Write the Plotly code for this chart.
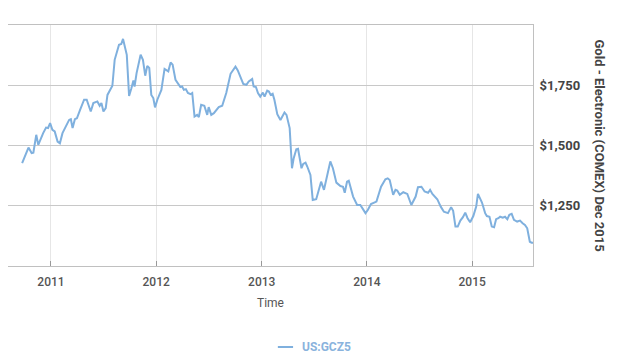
import plotly.graph_objects as go

dates = [
    "2010-09-23", "2010-10-15", "2010-10-26", "2010-11-01", "2010-11-11", "2010-11-18",
    "2010-12-05", "2010-12-15", "2010-12-22", "2010-12-29", "2011-01-06", "2011-01-14",
    "2011-01-24", "2011-02-01", "2011-02-10", "2011-03-05", "2011-03-11", "2011-03-17",
    "2011-03-25", "2011-04-01", "2011-04-12", "2011-04-26", "2011-05-05", "2011-05-19",
    "2011-05-28", "2011-06-11", "2011-06-19", "2011-06-25", "2011-07-02", "2011-07-10",
    "2011-07-16", "2011-08-02", "2011-08-10", "2011-08-25", "2011-09-02", "2011-09-08",
    "2011-09-21", "2011-09-29", "2011-10-07", "2011-10-14", "2011-10-18", "2011-10-25",
    "2011-11-08", "2011-11-16", "2011-11-24", "2011-12-01", "2011-12-08", "2011-12-15",
    "2011-12-22", "2011-12-28", "2012-01-05", "2012-01-19", "2012-01-30", "2012-02-12",
    "2012-02-20", "2012-02-27", "2012-03-08", "2012-03-19", "2012-03-25", "2012-03-31",
    "2012-04-06", "2012-04-13", "2012-04-20", "2012-04-29", "2012-05-05", "2012-05-13",
    "2012-05-22", "2012-05-28", "2012-06-05", "2012-06-16", "2012-06-26", "2012-07-01",
    "2012-07-10", "2012-07-19", "2012-08-05", "2012-08-17", "2012-08-31", "2012-09-15",
    "2012-09-23", "2012-10-02", "2012-10-10", "2012-10-20", "2012-10-29", "2012-11-09",
    "2012-11-17", "2012-11-29", "2012-12-04", "2012-12-12", "2012-12-19", "2012-12-27",
    "2013-01-05", "2013-01-11", "2013-01-20", "2013-01-26", "2013-02-01", "2013-02-08",
    "2013-02-14", "2013-02-24", "2013-03-07", "2013-03-21", "2013-03-28", "2013-04-08",
    "2013-04-16", "2013-04-22", "2013-05-01", "2013-05-07", "2013-05-19", "2013-05-25",
    "2013-06-02", "2013-06-08", "2013-06-19", "2013-06-27", "2013-07-09", "2013-07-26",
    "2013-08-05", "2013-08-27", "2013-09-05", "2013-09-17", "2013-10-01", "2013-10-10",
    "2013-10-16", "2013-10-24", "2013-10-30", "2013-11-14", "2013-11-28", "2013-12-09",
    "2013-12-21", "2013-12-27", "2014-01-04", "2014-01-15", "2014-02-03", "2014-02-19",
    "2014-03-06", "2014-03-14", "2014-03-21", "2014-04-02", "2014-04-10", "2014-04-16",
    "2014-04-25", "2014-05-07", "2014-05-21", "2014-06-04", "2014-06-19", "2014-06-27",
    "2014-07-09", "2014-07-20", "2014-08-01", "2014-08-08", "2014-08-16", "2014-08-24",
    "2014-09-02", "2014-09-14", "2014-09-25", "2014-10-09", "2014-10-20", "2014-10-27",
    "2014-11-04", "2014-11-12", "2014-11-21", "2014-11-30", "2014-12-08", "2014-12-16",
    "2014-12-25", "2015-01-05", "2015-01-15", "2015-01-21", "2015-01-29", "2015-02-04",
    "2015-02-15", "2015-02-21", "2015-03-02", "2015-03-10", "2015-03-18", "2015-03-25",
    "2015-04-02", "2015-04-08", "2015-04-17", "2015-04-25", "2015-05-03", "2015-05-10",
    "2015-05-18", "2015-05-26", "2015-06-06", "2015-06-16", "2015-06-25", "2015-07-03",
    "2015-07-11", "2015-07-20", "2015-07-26", "2015-07-31",
]

prices = [
    1428, 1493, 1470, 1472, 1546, 1504,
    1553, 1576, 1574, 1595, 1567, 1560,
    1518, 1511, 1553, 1608, 1611, 1574,
    1611, 1615, 1650, 1692, 1692, 1643,
    1678, 1685, 1667, 1678, 1643, 1657,
    1712, 1750, 1858, 1921, 1924, 1945,
    1879, 1708, 1740, 1772, 1747, 1803,
    1879, 1858, 1792, 1833, 1824, 1712,
    1699, 1660, 1692, 1733, 1820, 1810,
    1847, 1838, 1775, 1754, 1745, 1747,
    1733, 1736, 1720, 1715, 1720, 1622,
    1629, 1620, 1671, 1667, 1629, 1661,
    1629, 1636, 1661, 1667, 1720, 1800,
    1814, 1830, 1814, 1782, 1758, 1754,
    1768, 1778, 1747, 1745, 1720, 1705,
    1722, 1705, 1730, 1726, 1712, 1717,
    1692, 1632, 1608, 1639, 1629, 1574,
    1407, 1449, 1486, 1488, 1407, 1425,
    1430, 1414, 1379, 1275, 1278, 1351,
    1317, 1435, 1407, 1347, 1333, 1330,
    1305, 1351, 1355, 1289, 1254, 1254,
    1230, 1220, 1233, 1258, 1268, 1330,
    1361, 1365, 1358, 1296, 1317, 1314,
    1296, 1307, 1300, 1254, 1289, 1328,
    1330, 1310, 1305, 1317, 1300, 1289,
    1278, 1247, 1226, 1220, 1245, 1230,
    1164, 1164, 1189, 1203, 1222, 1199,
    1182, 1208, 1247, 1300, 1278, 1264,
    1220, 1208, 1205, 1164, 1161, 1195,
    1199, 1205, 1201, 1205, 1195, 1213,
    1217, 1192, 1185, 1189, 1178, 1171,
    1157, 1101, 1097, 1097,
]

series_name = "US:GCZ5"
y_title = "Gold - Electronic (COMEX) Dec 2015"
x_title = "Time"
y_tickvals = [1250, 1500, 1750]
y_ticktext = ["$1,250", "$1,500", "$1,750"]
x_tickvals = ["2011-01-01", "2012-01-01", "2013-01-01", "2014-01-01", "2015-01-01"]
x_ticktext = ["2011", "2012", "2013", "2014", "2015"]

line_color = "#7fb0de"
legend_text_color = "#8ab3dd"

fig = go.Figure()
fig.add_trace(go.Scatter(
    x=dates, y=prices, mode="lines", name=series_name,
    line=dict(color=line_color, width=2), showlegend=False,
))

fig.update_layout(
    width=617, height=355,
    margin=dict(l=0, r=92, t=17, b=97),
    paper_bgcolor="white", plot_bgcolor="white",
    font=dict(family="Roboto", size=12, color="#555555"),
    showlegend=False,
    xaxis=dict(
        range=["2010-08-05", "2015-07-31"],
        tickvals=x_tickvals, ticktext=x_ticktext,
        showgrid=True, gridcolor="#e6e6e6", gridwidth=1,
        ticks="inside", ticklen=5, tickcolor="#999999",
        showline=True, linecolor="#c0c0c0", linewidth=1, mirror=True,
        tickfont=dict(size=12, color="#555555", weight=500),
        ticklabelstandoff=5,
        title=dict(text=x_title, font=dict(size=12, color="#555555"), standoff=10),
        zeroline=False,
    ),
    yaxis=dict(
        range=[1000, 2003], side="right",
        tickvals=y_tickvals, ticktext=y_ticktext,
        showgrid=True, gridcolor="#c8c8c8", gridwidth=1,
        ticks="", showline=True, linecolor="#c0c0c0", linewidth=1, mirror=True,
        tickfont=dict(size=13, color="#444444", weight="bold"),
        ticklabelstandoff=3,
        zeroline=False,
    ),
    annotations=[
        dict(
            text=y_title, textangle=90, xref="paper", yref="paper",
            x=1.0, xshift=66, y=0.5, xanchor="center", yanchor="middle",
            showarrow=False, font=dict(size=13, color="#444444", weight="bold"),
        ),
        dict(
            text=series_name, xref="paper", yref="paper",
            x=0.556, y=-0.336, xanchor="left", yanchor="middle",
            showarrow=False, font=dict(size=12, color=legend_text_color, weight="bold"),
        ),
    ],
    shapes=[dict(
        type="line", xref="paper", yref="paper",
        x0=0.514, x1=0.543, y0=-0.336, y1=-0.336,
        line=dict(color=line_color, width=2),
    )],
)

fig.write_html("out.html")
